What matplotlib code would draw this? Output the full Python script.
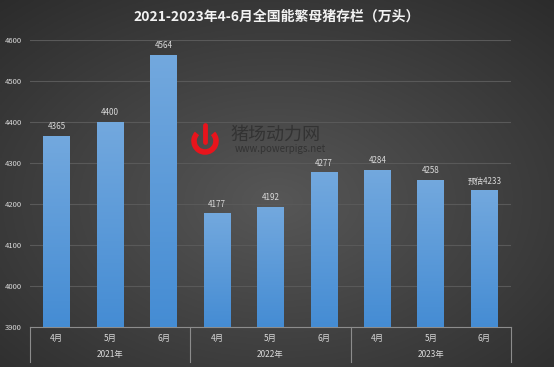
import numpy as np
import matplotlib.pyplot as plt
from matplotlib.patches import Arc

plt.rcParams['font.family'] = ['Noto Sans CJK SC', 'DejaVu Sans']

months = ['4月', '5月', '6月'] * 3
years = ['2021年', '2022年', '2023年']
values = [4365, 4400, 4564, 4177, 4192, 4277, 4284, 4258, 4233]
labels = ['4365', '4400', '4564', '4177', '4192', '4277', '4284', '4258', '预估4233']

W, H = 554, 367
fig = plt.figure(figsize=(W / 100, H / 100), dpi=100)

# dark radial background
bg = fig.add_axes([0, 0, 1, 1])
yy, xx = np.mgrid[0:1:200j, 0:1:300j]
r = np.sqrt(((xx - 0.5) / 0.75) ** 2 + ((yy - 0.45) / 0.75) ** 2)
shade = 0.34 - 0.17 * np.clip(r, 0, 1)
bg.imshow(np.dstack([shade] * 3), extent=[0, 1, 0, 1], aspect='auto', origin='lower')
bg.set_xlim(0, 1)
bg.set_ylim(0, 1)
bg.axis('off')

ax = fig.add_axes([30 / W, 1 - 327 / H, (511 - 30) / W, (327 - 40) / H])
ax.patch.set_alpha(0)
x = np.arange(len(values))
bars = ax.bar(x, values, width=0.5, color='#5b9bd5', zorder=2)
ax.set_ylim(3900, 4600)
ax.set_xlim(-0.5, len(values) - 0.5)

grad = np.linspace(0, 1, 100).reshape(-1, 1)
top = np.array([0.45, 0.66, 0.87])
bot = np.array([0.27, 0.55, 0.83])
img = bot + (top - bot) * grad[..., None]
for b in bars:
    im = ax.imshow(img, extent=[b.get_x(), b.get_x() + b.get_width(), 3900, b.get_height()],
                   aspect='auto', origin='lower', zorder=3)
    im.set_clip_path(b)

for xi, v, lab in zip(x, values, labels):
    ax.text(xi, v + 12, lab, ha='center', va='bottom', fontsize=5.8, color='#d9d9d9', zorder=4)

ax.set_yticks(range(3900, 4601, 100))
ax.tick_params(axis='y', length=0, labelsize=5.5, labelcolor='#d9d9d9', pad=6)
ax.yaxis.grid(True, color='#595959', linewidth=0.8, zorder=0)
ax.set_xticks([])
for s in ['top', 'right', 'left']:
    ax.spines[s].set_visible(False)
ax.spines['bottom'].set_color('#8c8c8c')
ax.spines['bottom'].set_linewidth(0.8)

# two-level category axis
for xi, m in zip(x, months):
    ax.text(xi, 3900 - 27, m, ha='center', va='center', fontsize=6, color='#d9d9d9')
for i, yr in enumerate(years):
    ax.text(3 * i + 1, 3900 - 66, yr, ha='center', va='center', fontsize=6, color='#d9d9d9')
for sx in [-0.5, 2.5, 5.5, 8.5]:
    ax.plot([sx, sx], [3900, 3900 - 86], color='#8c8c8c', linewidth=0.8, clip_on=False)

fig.text(0.5, 1 - 17 / H, '2021-2023年4-6月全国能繁母猪存栏（万头）', ha='center', va='center',
         fontsize=10, fontweight='bold', color='#f2f2f2')

# watermark
bg.add_patch(Arc((205 / W, 1 - 141 / H), 22 / W, 22 / H, theta1=125, theta2=55,
                 color='#e8141c', linewidth=4))
bg.plot([205 / W, 205 / W], [1 - 125 / H, 1 - 142 / H], color='#e8141c', linewidth=3.5,
        solid_capstyle='round')
fig.text(230 / W, 1 - 135 / H, '猪场动力网', fontsize=13, color='#333333', va='center', ha='left')
fig.text(235 / W, 1 - 149 / H, 'www.powerpigs.net', fontsize=7, color='#333333', va='center', ha='left')

fig.savefig('out.png', dpi=100)
